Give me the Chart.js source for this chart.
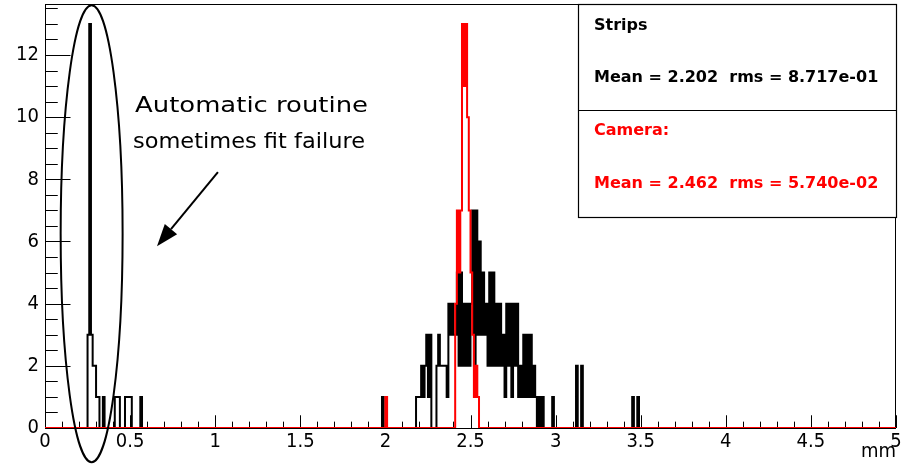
<!DOCTYPE html>
<html>
<head>
<meta charset="utf-8">
<script src="https://cdn.jsdelivr.net/npm/chart.js@4.4.1/dist/chart.umd.min.js"></script>
<style>
  body { margin: 0; background: #fff; }
  #wrap { width: 901px; height: 465px; }
</style>
</head>
<body>
<div id="wrap"><canvas id="histChart" width="901" height="465"></canvas></div>
<script>
// histogram binning (mm)
const BIN_WIDTH = 0.01;
const X_MIN = 0;
const X_MAX = 5;
const Y_MAX = 13.64;

// Strips: left bin edges and counts (only non-empty bins)
const stripBins = [
  0.25, 0.26, 0.27, 0.28, 0.29, 0.30, 0.31, 0.34, 0.41, 0.42, 0.43, 0.47, 0.48, 0.49, 0.50, 0.56,
  1.98,
  2.18, 2.19, 2.20, 2.21, 2.22, 2.23, 2.24, 2.25, 2.26,
  2.30, 2.31, 2.32, 2.33, 2.34, 2.35, 2.36,
  2.37, 2.38, 2.39, 2.40, 2.41, 2.42, 2.43, 2.44, 2.45, 2.46, 2.47, 2.48, 2.49, 2.50,
  2.51, 2.52, 2.53, 2.54, 2.55, 2.56, 2.57, 2.58, 2.59, 2.60,
  2.61, 2.62, 2.63, 2.64, 2.65, 2.66, 2.67, 2.68, 2.69, 2.70,
  2.71, 2.72, 2.73, 2.74, 2.75, 2.76, 2.77, 2.78, 2.79, 2.80,
  2.81, 2.82, 2.83, 2.84, 2.85, 2.86, 2.87, 2.88, 2.90, 2.92, 2.98,
  3.12, 3.15, 3.45, 3.48
];
const stripCounts = [
  3, 13, 3, 2, 2, 1, 1, 1, 1, 1, 1, 1, 1, 1, 1, 1,
  1,
  1, 1, 1, 2, 1, 2, 3, 1, 3,
  2, 3, 2, 2, 2, 2, 1,
  4, 3, 4, 3, 3, 5, 2, 5, 2, 4, 2, 4, 2, 4,
  7, 2, 7, 3, 6, 3, 5, 3, 4, 2,
  5, 2, 5, 2, 4, 2, 4, 2, 3, 1,
  4, 2, 4, 1, 4, 2, 4, 1, 2, 1,
  3, 1, 3, 1, 3, 1, 2, 1, 1, 1, 1,
  2, 2, 1, 1
];

// Camera: left bin edges and counts
const cameraBins = [2.00, 2.41, 2.42, 2.43, 2.44, 2.45, 2.46, 2.47, 2.48, 2.49, 2.50, 2.51, 2.52, 2.53, 2.54];
const cameraCounts = [1, 4, 7, 5, 7, 13, 11, 13, 10, 7, 5, 3, 1, 2, 1];

const xTicks = [0, 0.5, 1, 1.5, 2, 2.5, 3, 3.5, 4, 4.5, 5];
const yTicks = [0, 2, 4, 6, 8, 10, 12];

const stripStats = "Mean = 2.202  rms = 8.717e-01";
const cameraStats = "Mean = 2.462  rms = 5.740e-02";
const noteLines = ["Automatic routine", "sometimes fit failure"];

function buildSteps(bins, counts) {
  const n = Math.round((X_MAX - X_MIN) / BIN_WIDTH);
  const filled = new Array(n).fill(0);
  bins.forEach((b, i) => {
    filled[Math.round((b - X_MIN) / BIN_WIDTH)] = counts[i];
  });
  const points = filled.map((c, i) => ({ x: X_MIN + i * BIN_WIDTH, y: c }));
  points.push({ x: X_MAX, y: 0 });
  return points;
}

const TICK_FONT = { family: "'Liberation Sans Narrow', 'DejaVu Sans Condensed', sans-serif", size: 20 };

// ROOT-like frame with inward ticks
const framePlugin = {
  id: "rootFrame",
  beforeDatasetsDraw(chart) {
    const { ctx, chartArea: a, scales } = chart;
    ctx.save();
    ctx.strokeStyle = "#000";
    ctx.lineWidth = 1;
    ctx.strokeRect(a.left + 0.5, a.top + 0.5, a.right - a.left - 1, a.bottom - a.top);

    const xs = scales.x, ys = scales.y;
    const h = a.bottom - a.top, w = a.right - a.left;
    ctx.beginPath();
    for (let i = 0; i <= 50; i++) {
      const v = i * 0.1;
      const px = Math.round(xs.getPixelForValue(v)) + 0.5;
      const len = i % 5 === 0 ? h * 0.03 : h * 0.015;
      ctx.moveTo(px, a.bottom);
      ctx.lineTo(px, a.bottom - len);
    }
    for (let i = 0; i <= 27; i++) {
      const v = i * 0.5;
      if (v > Y_MAX) break;
      const py = Math.round(ys.getPixelForValue(v)) + 0.5;
      const len = i % 4 === 0 ? w * 0.03 : w * 0.015;
      ctx.moveTo(a.left, py);
      ctx.lineTo(a.left + len, py);
    }
    ctx.stroke();
    ctx.restore();
  }
};

// stats box, ellipse, arrow and note
const annotatePlugin = {
  id: "annotate",
  afterDraw(chart) {
    const { ctx, chartArea: a, scales } = chart;
    const xs = scales.x, ys = scales.y;
    ctx.save();

    // stats box
    const bx = 578, by = a.top, bw = a.right - bx, bh = 213, mid = 106;
    ctx.fillStyle = "#fff";
    ctx.fillRect(bx, by, bw, bh);
    ctx.strokeStyle = "#000";
    ctx.lineWidth = 1.2;
    ctx.strokeRect(bx + 0.5, by + 0.5, bw, bh);
    ctx.beginPath();
    ctx.moveTo(bx, by + mid + 0.5);
    ctx.lineTo(bx + bw, by + mid + 0.5);
    ctx.stroke();

    ctx.font = "bold 16px 'DejaVu Sans', sans-serif";
    ctx.textBaseline = "middle";
    ctx.textAlign = "left";
    ctx.fillStyle = "#000";
    ctx.fillText("Strips", bx + 16, by + 22);
    ctx.fillText(stripStats, bx + 16, by + 74);
    ctx.fillStyle = "#ff0000";
    ctx.fillText("Camera:", bx + 16, by + 127);
    ctx.fillText(cameraStats, bx + 16, by + 180);

    // ellipse round the failed fits
    const cx = xs.getPixelForValue(0.274);
    const cy = ys.getPixelForValue(6.25);
    const rx = xs.getPixelForValue(0.274 + 0.182) - cx;
    const ry = cy - ys.getPixelForValue(6.25 + 7.35);
    ctx.strokeStyle = "#000";
    ctx.lineWidth = 2;
    ctx.beginPath();
    ctx.ellipse(cx, cy, rx, ry, 0, 0, Math.PI * 2);
    ctx.stroke();

    // arrow
    const x0 = xs.getPixelForValue(1.016), y0 = ys.getPixelForValue(8.23);
    const x1 = xs.getPixelForValue(0.658), y1 = ys.getPixelForValue(5.85);
    const ang = Math.atan2(y1 - y0, x1 - x0);
    const headLen = 22, headHalf = 8;
    const bxh = x1 - headLen * Math.cos(ang), byh = y1 - headLen * Math.sin(ang);
    ctx.beginPath();
    ctx.moveTo(x0, y0);
    ctx.lineTo(bxh, byh);
    ctx.stroke();
    ctx.fillStyle = "#000";
    ctx.beginPath();
    ctx.moveTo(x1, y1);
    ctx.lineTo(bxh + headHalf * Math.sin(ang), byh - headHalf * Math.cos(ang));
    ctx.lineTo(bxh - headHalf * Math.sin(ang), byh + headHalf * Math.cos(ang));
    ctx.closePath();
    ctx.fill();

    // note text, each line stretched to the width it has in the original
    ctx.font = "22px 'DejaVu Sans', sans-serif";
    ctx.fillStyle = "#000";
    ctx.textBaseline = "middle";
    const notes = [[0.529, 10.35, 233], [0.517, 9.2, 232]];
    notes.forEach(([vx, vy, tw], i) => {
      const sx = tw / ctx.measureText(noteLines[i]).width;
      ctx.save();
      ctx.translate(xs.getPixelForValue(vx), ys.getPixelForValue(vy));
      ctx.scale(sx, 1);
      ctx.fillText(noteLines[i], 0, 0);
      ctx.restore();
    });

    ctx.restore();
  }
};

const chart = new Chart(document.getElementById("histChart"), {
  type: "line",
  data: {
    datasets: [
      {
        label: "Camera",
        data: buildSteps(cameraBins, cameraCounts),
        borderColor: "#ff0000",
        borderWidth: 2,
        stepped: true,
        pointRadius: 0,
        fill: false
      },
      {
        label: "Strips",
        data: buildSteps(stripBins, stripCounts),
        borderColor: "#000000",
        borderWidth: 2,
        stepped: true,
        pointRadius: 0,
        fill: false
      }
    ]
  },
  options: {
    responsive: false,
    animation: false,
    devicePixelRatio: 1,
    layout: { padding: { top: 4, right: 5, left: 0, bottom: 0 } },
    plugins: {
      legend: { display: false },
      tooltip: { enabled: false }
    },
    scales: {
      x: {
        type: "linear",
        min: X_MIN,
        max: X_MAX,
        grid: { display: false, drawTicks: false },
        border: { display: false },
        afterBuildTicks: (s) => { s.ticks = xTicks.map((v) => ({ value: v })); },
        afterFit: (s) => { s.height = 37; s.paddingLeft = 0; s.paddingRight = 0; },
        ticks: {
          autoSkip: false,
          maxRotation: 0,
          padding: 2,
          color: "#000",
          font: TICK_FONT,
          callback: (v) => String(v)
        },
        title: {
          display: true,
          text: "mm",
          align: "end",
          color: "#000",
          font: TICK_FONT,
          padding: { top: 0, bottom: 1 }
        }
      },
      y: {
        min: 0,
        max: Y_MAX,
        grid: { display: false, drawTicks: false },
        border: { display: false },
        afterBuildTicks: (s) => { s.ticks = yTicks.map((v) => ({ value: v })); },
        afterFit: (s) => { s.width = 45; s.paddingTop = 0; s.paddingBottom = 0; },
        ticks: {
          padding: 6,
          color: "#000",
          font: TICK_FONT,
          callback: (v) => String(v)
        }
      }
    }
  },
  plugins: [framePlugin, annotatePlugin]
});
</script>
</body>
</html>
